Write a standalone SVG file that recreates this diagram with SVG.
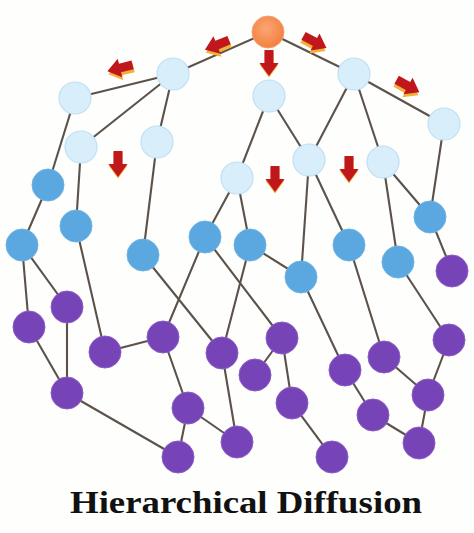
<svg xmlns="http://www.w3.org/2000/svg" xmlns:xlink="http://www.w3.org/1999/xlink" width="474" height="533" viewBox="0 0 474 533">
<defs>
<style>
.e{stroke:#5b534b;stroke-width:2.1;fill:none;stroke-linecap:round}
.lt{fill:#d8eefa;stroke:#bfe0f4;stroke-width:1.2}
.md{fill:#5aa8df;stroke:#6db3e4;stroke-width:1}
.pu{fill:#7644b6;stroke:#8a5cc6;stroke-width:1}
.rt{fill:url(#og);stroke:#f4a070;stroke-width:1}
.ttl{font-family:"Liberation Serif","Times New Roman",serif;font-weight:bold;font-size:31px;fill:#111}
</style>
<radialGradient id="og" cx="0.45" cy="0.4" r="0.6">
<stop offset="0" stop-color="#fba673"/>
<stop offset="1" stop-color="#f3803f"/>
</radialGradient>
<path id="ar" d="M-13,-4.5 L0,-4.5 L0,-9.5 L13,0 L0,9.5 L0,4.5 L-13,4.5 Z" fill="#c0171c"/>
<path id="ash" d="M-13,-4.5 L0,-4.5 L0,-9.5 L13,0 L0,9.5 L0,4.5 L-13,4.5 Z" fill="#f2b23a"/>
</defs>
<rect width="474" height="533" fill="#fefefc"/>
<g id="connectors">
<line class="e" x1="268" y1="32" x2="173" y2="74"/>
<line class="e" x1="268" y1="32" x2="354" y2="74"/>
<line class="e" x1="173" y1="74" x2="75" y2="98"/>
<line class="e" x1="173" y1="74" x2="81" y2="147"/>
<line class="e" x1="173" y1="74" x2="157" y2="142"/>
<line class="e" x1="354" y1="74" x2="444" y2="124"/>
<line class="e" x1="354" y1="74" x2="309" y2="160"/>
<line class="e" x1="354" y1="74" x2="383" y2="162"/>
<line class="e" x1="269" y1="96" x2="237" y2="178"/>
<line class="e" x1="269" y1="96" x2="309" y2="160"/>
<line class="e" x1="444" y1="124" x2="430" y2="217"/>
<line class="e" x1="383" y1="162" x2="430" y2="217"/>
<line class="e" x1="383" y1="162" x2="398" y2="262"/>
<line class="e" x1="309" y1="160" x2="301" y2="277"/>
<line class="e" x1="309" y1="160" x2="349" y2="245"/>
<line class="e" x1="237" y1="178" x2="250" y2="245"/>
<line class="e" x1="237" y1="178" x2="205" y2="237"/>
<line class="e" x1="75" y1="98" x2="48" y2="185"/>
<line class="e" x1="48" y1="185" x2="22" y2="245"/>
<line class="e" x1="81" y1="147" x2="76" y2="226"/>
<line class="e" x1="157" y1="142" x2="143" y2="255"/>
<line class="e" x1="22" y1="245" x2="29" y2="327"/>
<line class="e" x1="22" y1="245" x2="67" y2="307"/>
<line class="e" x1="29" y1="327" x2="67" y2="393"/>
<line class="e" x1="67" y1="307" x2="67" y2="393"/>
<line class="e" x1="76" y1="226" x2="105" y2="352"/>
<line class="e" x1="105" y1="352" x2="163" y2="337"/>
<line class="e" x1="143" y1="255" x2="222" y2="353"/>
<line class="e" x1="205" y1="237" x2="163" y2="337"/>
<line class="e" x1="205" y1="237" x2="282" y2="338"/>
<line class="e" x1="163" y1="337" x2="188" y2="408"/>
<line class="e" x1="67" y1="393" x2="178" y2="457"/>
<line class="e" x1="188" y1="408" x2="178" y2="457"/>
<line class="e" x1="188" y1="408" x2="237" y2="442"/>
<line class="e" x1="222" y1="353" x2="237" y2="442"/>
<line class="e" x1="250" y1="245" x2="222" y2="353"/>
<line class="e" x1="250" y1="245" x2="301" y2="277"/>
<line class="e" x1="301" y1="277" x2="345" y2="370"/>
<line class="e" x1="349" y1="245" x2="384" y2="357"/>
<line class="e" x1="398" y1="262" x2="449" y2="340"/>
<line class="e" x1="430" y1="217" x2="452" y2="271"/>
<line class="e" x1="282" y1="338" x2="255" y2="375"/>
<line class="e" x1="282" y1="338" x2="292" y2="403"/>
<line class="e" x1="292" y1="403" x2="332" y2="457"/>
<line class="e" x1="345" y1="370" x2="373" y2="415"/>
<line class="e" x1="384" y1="357" x2="428" y2="395"/>
<line class="e" x1="449" y1="340" x2="428" y2="395"/>
<line class="e" x1="428" y1="395" x2="419" y2="443"/>
<line class="e" x1="373" y1="415" x2="419" y2="443"/>
</g>
<g id="arrows">
<g transform="translate(120,68)"><use xlink:href="#ash" transform="translate(1,3) rotate(166)"/><use xlink:href="#ar" transform="rotate(166)"/></g>
<g transform="translate(217,45)"><use xlink:href="#ash" transform="translate(1,3) rotate(158)"/><use xlink:href="#ar" transform="rotate(158)"/></g>
<g transform="translate(315,42)"><use xlink:href="#ash" transform="translate(-1,3) rotate(28)"/><use xlink:href="#ar" transform="rotate(28)"/></g>
<g transform="translate(408,86)"><use xlink:href="#ash" transform="translate(-1,3) rotate(29)"/><use xlink:href="#ar" transform="rotate(29)"/></g>
<g transform="translate(269,63)"><use xlink:href="#ash" transform="translate(0,1.5) rotate(90)"/><use xlink:href="#ar" transform="rotate(90)"/></g>
<g transform="translate(118,164)"><use xlink:href="#ash" transform="translate(0,1.5) rotate(90)"/><use xlink:href="#ar" transform="rotate(90)"/></g>
<g transform="translate(275,179)"><use xlink:href="#ash" transform="translate(0,1.5) rotate(90)"/><use xlink:href="#ar" transform="rotate(90)"/></g>
<g transform="translate(349,169)"><use xlink:href="#ash" transform="translate(0,1.5) rotate(90)"/><use xlink:href="#ar" transform="rotate(90)"/></g>
</g>
<g id="nodes">
<g id="root"><circle class="rt" cx="268" cy="32" r="16"/></g>
<g id="a1"><circle class="lt" cx="173" cy="74" r="16"/></g>
<g id="a2"><circle class="lt" cx="75" cy="98" r="16"/></g>
<g id="a3"><circle class="lt" cx="81" cy="147" r="16"/></g>
<g id="a4"><circle class="lt" cx="157" cy="142" r="16"/></g>
<g id="a5"><circle class="lt" cx="269" cy="96" r="16"/></g>
<g id="a6"><circle class="lt" cx="354" cy="74" r="16"/></g>
<g id="a7"><circle class="lt" cx="444" cy="124" r="16"/></g>
<g id="a8"><circle class="lt" cx="237" cy="178" r="16"/></g>
<g id="a9"><circle class="lt" cx="309" cy="160" r="16"/></g>
<g id="a10"><circle class="lt" cx="383" cy="162" r="16"/></g>
<g id="b1"><circle class="md" cx="48" cy="185" r="16"/></g>
<g id="b2"><circle class="md" cx="76" cy="226" r="16"/></g>
<g id="b3"><circle class="md" cx="22" cy="245" r="16"/></g>
<g id="b4"><circle class="md" cx="143" cy="255" r="16"/></g>
<g id="b5"><circle class="md" cx="205" cy="237" r="16"/></g>
<g id="b6"><circle class="md" cx="250" cy="245" r="16"/></g>
<g id="b7"><circle class="md" cx="301" cy="277" r="16"/></g>
<g id="b8"><circle class="md" cx="349" cy="245" r="16"/></g>
<g id="b9"><circle class="md" cx="398" cy="262" r="16"/></g>
<g id="b10"><circle class="md" cx="430" cy="217" r="16"/></g>
<g id="p1"><circle class="pu" cx="29" cy="327" r="16"/></g>
<g id="p2"><circle class="pu" cx="67" cy="307" r="16"/></g>
<g id="p3"><circle class="pu" cx="105" cy="352" r="16"/></g>
<g id="p4"><circle class="pu" cx="163" cy="337" r="16"/></g>
<g id="p5"><circle class="pu" cx="222" cy="353" r="16"/></g>
<g id="p6"><circle class="pu" cx="67" cy="393" r="16"/></g>
<g id="p7"><circle class="pu" cx="188" cy="408" r="16"/></g>
<g id="p8"><circle class="pu" cx="178" cy="457" r="16"/></g>
<g id="p9"><circle class="pu" cx="237" cy="442" r="16"/></g>
<g id="p10"><circle class="pu" cx="282" cy="338" r="16"/></g>
<g id="p11"><circle class="pu" cx="255" cy="375" r="16"/></g>
<g id="p12"><circle class="pu" cx="292" cy="403" r="16"/></g>
<g id="p13"><circle class="pu" cx="332" cy="457" r="16"/></g>
<g id="p14"><circle class="pu" cx="345" cy="370" r="16"/></g>
<g id="p15"><circle class="pu" cx="384" cy="357" r="16"/></g>
<g id="p16"><circle class="pu" cx="373" cy="415" r="16"/></g>
<g id="p17"><circle class="pu" cx="419" cy="443" r="16"/></g>
<g id="p18"><circle class="pu" cx="428" cy="395" r="16"/></g>
<g id="p19"><circle class="pu" cx="449" cy="340" r="16"/></g>
<g id="p20"><circle class="pu" cx="452" cy="271" r="16"/></g>
</g>
<text class="ttl" x="246" y="513" text-anchor="middle" textLength="352" lengthAdjust="spacingAndGlyphs">Hierarchical Diffusion</text>
</svg>
